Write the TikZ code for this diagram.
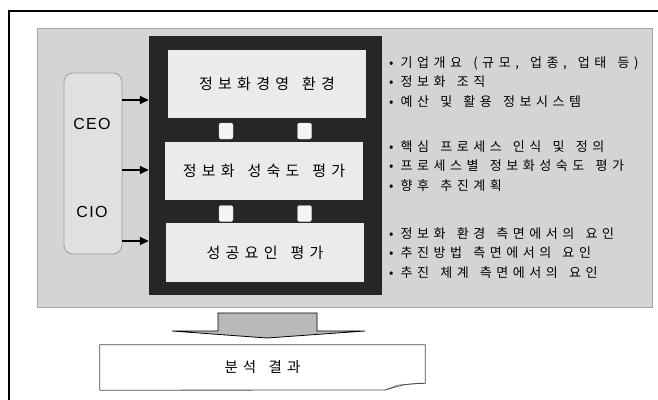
\documentclass[tikz,border=0pt]{standalone}
\usepackage{fontspec}
\newfontfamily\krfont[LetterSpace=35, WordSpace=1.6]{Noto Sans CJK KR}
\newfontfamily\krlist[LetterSpace=35, WordSpace=1.5]{Noto Sans CJK KR}
\newfontfamily\latfont[LetterSpace=8]{Liberation Sans}
\newcommand{\bul}{•\hspace{7pt}}
\usetikzlibrary{arrows.meta}
\begin{document}
\begin{tikzpicture}[x=1pt, y=-1pt,
    stage/.style={rectangle, fill=gray!16, minimum width=198pt, inner sep=0pt,
                  font=\krfont\fontsize{15}{17}\selectfont},
    link/.style={rectangle, fill=gray!8, draw=gray!40, rounded corners=2pt,
                 minimum width=14pt, minimum height=16pt, inner sep=0pt},
    info/.style={anchor=west, align=left, inner sep=0pt,
                 font=\krlist\fontsize{13}{19.5}\selectfont},
    feed/.style={-{Triangle[length=9pt, width=8pt]}, line width=1.8pt},
  ]
  \useasboundingbox (0,0) rectangle (658,399);

  % outer frame
  \draw[line width=2.4pt] (9,420) -- (9,11) -- (680,11);

  % === gray panel ===
  \node[rectangle, fill=gray!34, draw=gray!70, minimum width=615pt, minimum height=279pt,
        inner sep=0pt] (panel) at (345,167.5) {};

  % executives
  \node[rectangle, rounded corners=9pt, fill=gray!24, draw=gray!75, thick,
        minimum width=58pt, minimum height=181pt, inner sep=0pt] (exec) at (93,163.5) {};
  \node[font=\latfont\fontsize{16}{18}\selectfont] (ceo) at (92,124) {CEO};
  \node[font=\latfont\fontsize{16}{18}\selectfont] (cio) at (92,212) {CIO};

  % === stages ===
  \node[rectangle, fill=black!85, minimum width=233pt, minimum height=259pt,
        inner sep=0pt] (frame) at (265.5,165.5) {};
  \node[stage, minimum height=68pt] (env) at (267,84) {정보화경영 환경};
  \node[stage, minimum height=58pt] (mat) at (264,171) {정보화 성숙도 평가};
  \node[stage, minimum height=59pt] (suc) at (265,252.5) {성공요인 평가};

  \node[link] (l1) at (226,131) {};
  \node[link] (l2) at (304.5,131) {};
  \node[link] (l3) at (226,213.5) {};
  \node[link] (l4) at (304.5,213.5) {};

  \draw[feed] (exec.east |- 0,100) -- (frame.west |- 0,100);
  \draw[feed] (exec.east |- 0,170) -- (frame.west |- 0,170);
  \draw[feed] (exec.east |- 0,241) -- (frame.west |- 0,241);

  % === details ===
  \node[info] (info1) at (389,82) {\bul 기업개요 (규모, 업종, 업태 등)\\\bul 정보화 조직\\\bul 예산 및 활용 정보시스템};
  \node[info] (info2) at (389,166) {\bul 핵심 프로세스 인식 및 정의\\\bul 프로세스별 정보화성숙도 평가\\\bul 향후 추진계획};
  \node[info] (info3) at (389,253) {\bul 정보화 환경 측면에서의 요인\\\bul 추진방법 측면에서의 요인\\\bul 추진 체계 측면에서의 요인};

  % === result ===
  \filldraw[fill=gray!55, draw=black, line width=0.8pt]
    (218,313) -- (317,313) -- (317,331) -- (365,331) -- (267,338) -- (172,331) -- (218,331) -- cycle;

  \node[rectangle, minimum width=325pt, minimum height=45pt, inner sep=0pt,
        font=\krfont\fontsize{14.5}{16}\selectfont] (res) at (262.5,367.5) {분석 결과};
  \draw[gray!60!black, thick] (res.south west) -- (res.north west) -- (res.north east)
    -- ([yshift=7pt]res.south east) .. controls (405,384) .. (385,390) -- (res.south west);
  \draw[gray!60!black] (385,390) -- (398,385) -- ([yshift=7pt]res.south east);
\end{tikzpicture}
\end{document}
